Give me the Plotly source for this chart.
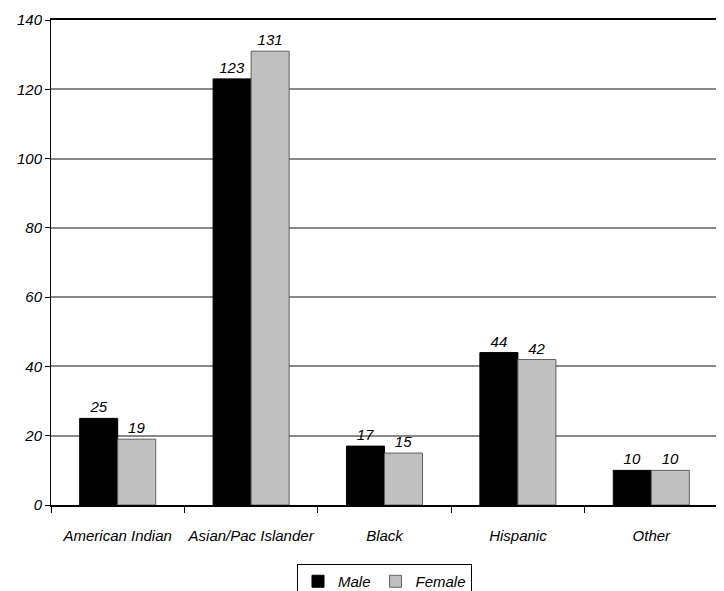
import plotly.graph_objects as go

categories = ["American Indian", "Asian/Pac Islander", "Black", "Hispanic", "Other"]
male = [25, 123, 17, 44, 10]
female = [19, 131, 15, 42, 10]
y_ticks = [0, 20, 40, 60, 80, 100, 120, 140]

FONT = "Liberation Sans, Arial, sans-serif"
FS = 15

# the page body has an 8px default margin, so figure coords are offset by 8px
fig = go.Figure()
fig.add_trace(go.Bar(
    x=categories, y=male, name="Male",
    marker=dict(color="#000000", line=dict(color="#000000", width=1)),
    text=[str(v) for v in male], textposition="outside",
    textfont=dict(family=FONT, size=FS, color="#000000", style="italic"),
    constraintext="none", cliponaxis=False,
))
fig.add_trace(go.Bar(
    x=categories, y=female, name="Female",
    marker=dict(color="#C0C0C0", line=dict(color="#606060", width=1)),
    text=[str(v) for v in female], textposition="outside",
    textfont=dict(family=FONT, size=FS, color="#000000", style="italic"),
    constraintext="none", cliponaxis=False,
))

fig.update_layout(
    template="none",
    width=724, height=591,
    margin=dict(l=43, r=14, t=12, b=94, autoexpand=False),
    paper_bgcolor="white", plot_bgcolor="white",
    barmode="group", bargap=0.43, bargroupgap=0,
    font=dict(family=FONT, size=FS, color="#000000", style="italic"),
    showlegend=True,
    legend=dict(
        orientation="h", x=0.5, xanchor="center", xref="paper",
        y=1 - 556 / 591, yanchor="top", yref="container",
        bordercolor="#000000", borderwidth=1,
        font=dict(family=FONT, size=FS, style="italic"),
        itemwidth=30, tracegroupgap=0,
    ),
    xaxis=dict(
        automargin=False, tickangle=0,
        showline=True, linecolor="#000000", linewidth=2, mirror=True,
        ticks="outside", tickson="boundaries", ticklen=6, tickcolor="#000000", tickwidth=1,
        showgrid=False, ticklabelstandoff=16,
        tickfont=dict(family=FONT, size=FS, style="italic"),
    ),
    yaxis=dict(
        automargin=False,
        range=[0, 140], tickvals=y_ticks,
        showline=True, linecolor="#000000", linewidth=1, mirror=True,
        ticks="outside", ticklen=5, tickcolor="#000000", tickwidth=1,
        showgrid=True, gridcolor="#888888", gridwidth=1.5,
        zeroline=False,
        tickfont=dict(family=FONT, size=FS, style="italic"),
    ),
)

fig.write_html("out.html")
